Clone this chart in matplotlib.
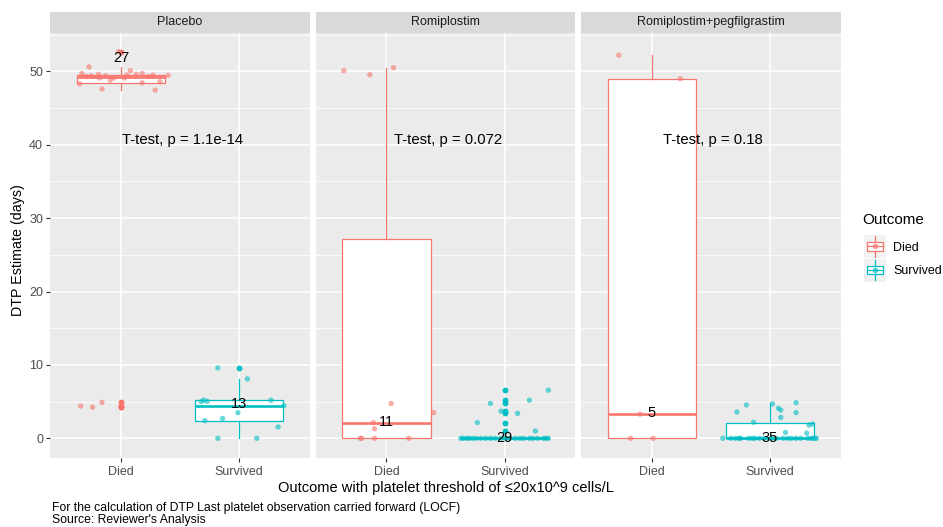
import numpy as np
import matplotlib.pyplot as plt
from matplotlib.patches import Rectangle

plt.rcParams['font.family'] = ['Liberation Sans', 'DejaVu Sans']

treatments = ['Placebo', 'Romiplostim', 'Romiplostim+pegfilgrastim']
outcomes = ['Died', 'Survived']
p_labels = ['T-test, p = 1.1e-14', 'T-test, p = 0.072', 'T-test, p = 0.18']
colors = ['#F8766D', '#00BFC4']

# DTP estimate (days) per subject; *_jit = horizontal jitter read off too
placebo_died = [52.7, 50.6, 49.7, 49.6, 49.4, 49.4, 50.1, 49.6, 49.7, 49.5, 49.45, 49.1,
                49.1, 48.8, 48.6, 48.45, 48.3, 47.6, 47.45, 49.1, 49.3, 49.5, 49.3,
                4.4, 4.25, 4.9, 4.3]
placebo_died_jit = [-0.02, -0.27, -0.33, -0.19, -0.25, -0.13, 0.08, 0.13, 0.18, 0.27, 0.40, 0.03,
                    -0.06, -0.09, 0.33, 0.18, -0.35, -0.16, 0.29, -0.18, 0.23, 0.05, -0.29,
                    -0.34, -0.24, -0.16, 0.0]
placebo_surv = [0, 0, 1.55, 2.4, 2.7, 3.5, 4.45, 5.0, 5.05, 5.2, 5.2, 8.1, 9.6]
placebo_surv_jit = [-0.18, 0.15, 0.33, -0.29, -0.14, -0.01, 0.38, -0.32, -0.27, -0.30, 0.27, 0.07, -0.18]

romi_died = [50.1, 49.55, 50.5, 4.75, 3.5, 2.15, 1.3, 0, 0, 0, 0]
romi_died_jit = [-0.36, -0.14, 0.06, 0.04, 0.40, -0.11, -0.10, -0.22, -0.21, -0.10, 0.19]
romi_surv = [6.55, 5.2, 4.75, 3.7, 3.4, 2.15, 1.0] + [0] * 22
romi_surv_jit = [0.37, 0.21, -0.12, -0.03, 0.11, -0.23, 0.26,
                 -0.37, -0.35, -0.32, -0.30, -0.27, -0.24, -0.20, -0.16, -0.12, -0.08, -0.03,
                 0.01, 0.04, 0.09, 0.13, 0.16, 0.21, 0.24, 0.28, 0.33, 0.35, 0.37]

peg_died = [52.2, 49.0, 3.3, 0, 0]
peg_died_jit = [-0.28, 0.24, -0.10, -0.18, 0.01]
peg_surv = [3.6, 4.55, 4.7, 4.1, 3.85, 2.85, 4.85, 3.5, 2.2, 0.8, 0.7, 1.8, 1.95] + [0] * 22
peg_surv_jit = [-0.28, -0.20, 0.02, 0.07, 0.09, 0.09, 0.22, 0.22, -0.14, 0.13, 0.31, 0.33, 0.36,
                -0.40, -0.33, -0.29, -0.26, -0.25, -0.18, -0.15, -0.13, -0.09, -0.05, 0.01,
                0.05, 0.11, 0.15, 0.18, 0.22, 0.26, 0.32, 0.35, 0.36, 0.38, 0.39]

panels = [
    [(placebo_died, placebo_died_jit), (placebo_surv, placebo_surv_jit)],
    [(romi_died, romi_died_jit), (romi_surv, romi_surv_jit)],
    [(peg_died, peg_died_jit), (peg_surv, peg_surv_jit)],
]

W, H = 943, 527
fig = plt.figure(figsize=(W / 100, H / 100), dpi=100)

lefts = [50, 315.5, 581]
pw = 260
top, bottom = 32.5, 457.7
strip_top = 11.5

for k, ax_left in enumerate(lefts):
    ax = fig.add_axes([ax_left / W, 1 - bottom / H, pw / W, (bottom - top) / H])
    ax.set_facecolor('#EBEBEB')
    for s in ax.spines.values():
        s.set_visible(False)
    ax.set_xlim(0.4, 2.6)
    ax.set_ylim(-2.64, 55.3)
    for y in [5, 15, 25, 35, 45, 55]:
        ax.axhline(y, color='white', lw=0.55, zorder=0)
    for y in [0, 10, 20, 30, 40, 50]:
        ax.axhline(y, color='white', lw=1.1, zorder=0)
    for x in [1, 2]:
        ax.axvline(x, color='white', lw=1.1, zorder=0)

    for i, (vals, jit) in enumerate(panels[k]):
        c = colors[i]
        ax.boxplot([vals], positions=[i + 1], widths=0.75, patch_artist=True,
                   boxprops=dict(facecolor='white', edgecolor=c, lw=0.9),
                   medianprops=dict(color=c, lw=1.9),
                   whiskerprops=dict(color=c, lw=0.9),
                   capprops=dict(visible=False),
                   flierprops=dict(marker='o', markerfacecolor=c, markeredgecolor='none', markersize=4.2),
                   zorder=2)
        ax.scatter(np.array(jit) + i + 1, vals, s=15, color=c, alpha=0.6, edgecolors='none', zorder=3)
        ax.text(i + 1, np.median(vals) * 1.05, str(len(vals)), ha='center', va='center',
                fontsize=10.5, color='black', zorder=4)

    ax.text(1.52, 40.7, p_labels[k], ha='center', va='center', fontsize=10.7, color='black', zorder=4)

    ax.set_xticks([1, 2])
    ax.set_xticklabels(outcomes, fontsize=9, color='#4D4D4D')
    ax.tick_params(axis='x', length=3, width=0.8, color='#333333', pad=3)
    ax.set_yticks([0, 10, 20, 30, 40, 50])
    if k == 0:
        ax.tick_params(axis='y', length=3, width=0.8, color='#333333', labelsize=9,
                       labelcolor='#4D4D4D', pad=2)
    else:
        ax.tick_params(axis='y', length=0, labelleft=False)

    sax = fig.add_axes([ax_left / W, 1 - top / H, pw / W, (top - strip_top) / H])
    sax.set_facecolor('#D9D9D9')
    sax.set_xticks([])
    sax.set_yticks([])
    for s in sax.spines.values():
        s.set_visible(False)
    sax.text(0.5, 0.5, treatments[k], ha='center', va='center', fontsize=9, color='#1A1A1A',
             transform=sax.transAxes)

fig.text(18 / W, 1 - 250 / H, 'DTP Estimate (days)', rotation=90, ha='center', va='center',
         fontsize=10.3, color='black')
fig.text(446 / W, 1 - 488 / H, 'Outcome with platelet threshold of \u226420x10^9 cells/L',
         ha='center', va='center', fontsize=10.5, color='black')
fig.text(52 / W, 1 - 508.5 / H, 'For the calculation of DTP Last platelet observation carried forward (LOCF)',
         ha='left', va='center', fontsize=8.8, color='black')
fig.text(52 / W, 1 - 520.5 / H, "Source: Reviewer's Analysis",
         ha='left', va='center', fontsize=8.8, color='black')

# legend
fig.text(862 / W, 1 - 220 / H, 'Outcome', ha='left', va='center', fontsize=11, color='black')
for i, lab in enumerate(outcomes):
    ky = 235 + i * 23.5
    lax = fig.add_axes([864 / W, 1 - (ky + 23) / H, 22 / W, 23 / H])
    lax.set_facecolor('#F2F2F2')
    lax.set_xlim(0, 1)
    lax.set_ylim(0, 1)
    lax.set_xticks([])
    lax.set_yticks([])
    for s in lax.spines.values():
        s.set_visible(False)
    c = colors[i]
    lax.plot([0.5, 0.5], [0.05, 0.32], color=c, lw=0.9)
    lax.plot([0.5, 0.5], [0.68, 0.95], color=c, lw=0.9)
    lax.add_patch(Rectangle((0.12, 0.32), 0.76, 0.36, facecolor='white', edgecolor=c, lw=0.9))
    lax.plot([0.12, 0.88], [0.5, 0.5], color=c, lw=0.9)
    lax.plot([0.5], [0.5], 'o', color=c, alpha=0.7, markersize=4, markeredgecolor='none')
    fig.text(893 / W, 1 - (ky + 12.5) / H, lab, ha='left', va='center', fontsize=9, color='black')

fig.savefig('out.png', dpi=100)
